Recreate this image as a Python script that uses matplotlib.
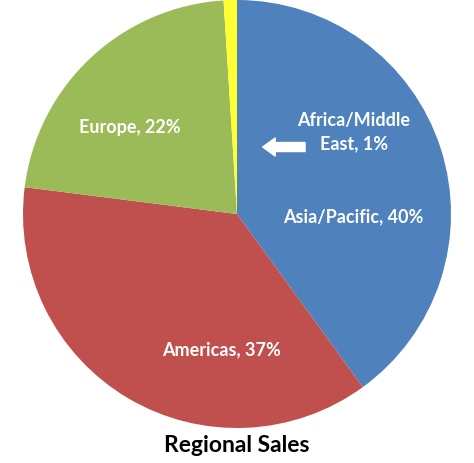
import matplotlib.pyplot as plt

# data
regions = ['Asia/Pacific', 'Americas', 'Europe', 'Africa/Middle East']
shares = [40, 37, 22, 1]
colors = ['#4F81BD', '#C0504D', '#9BBB59', '#FFFF33']

plt.rcParams['font.family'] = ['Lato', 'DejaVu Sans']

fig = plt.figure(figsize=(4.74, 4.64), dpi=100)
# pie centre at pixel (237, 215), radius 214
ax = fig.add_axes([23 / 474, 35 / 464, 428 / 474, 428 / 464])
ax.pie(shares, colors=colors, startangle=90, counterclock=False, radius=1,
       wedgeprops=dict(linewidth=0))
ax.set_xlim(-1, 1)
ax.set_ylim(-1, 1)
ax.set_aspect('equal')
ax.axis('off')

lbl = dict(color='white', fontsize=13, fontweight='bold', ha='center', va='center')
ax.text(0.547, 0.388, 'Africa/Middle\nEast, %d%%' % shares[3], linespacing=1.4, **lbl)
ax.text(0.542, -0.009, '%s, %d%%' % (regions[0], shares[0]), **lbl)
ax.text(-0.07, -0.63, '%s, %d%%' % (regions[1], shares[1]), **lbl)
ax.text(-0.5, 0.407, '%s, %d%%' % (regions[2], shares[2]), **lbl)

# arrow pointing at the thin slice
ax.annotate('', xy=(0.12, 0.313), xytext=(0.318, 0.313),
            arrowprops=dict(facecolor='white', edgecolor='white', width=6.5,
                            headwidth=13, headlength=9))

fig.text(0.5, 0.039, 'Regional Sales', ha='center', va='center',
         fontsize=16.5, fontweight='bold', color='black')

fig.savefig('out.png', dpi=100)
